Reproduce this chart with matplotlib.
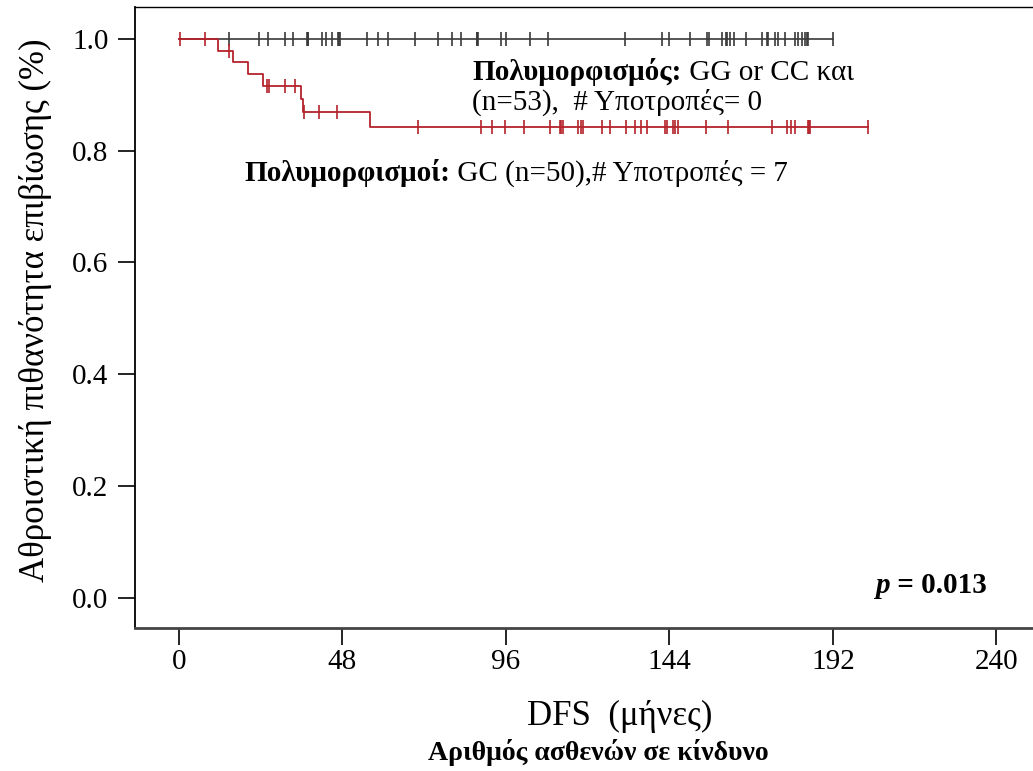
import numpy as np
import matplotlib
matplotlib.use("Agg")
import matplotlib.pyplot as plt

plt.rcParams['font.family'] = ['Liberation Serif', 'DejaVu Serif']

# --- Data (months) ---
# Group GC (n=50): event times (relapses) and censored times
gc_event_times = [11.5, 15.9, 20.3, 24.7, 35.7, 36.5, 56.1]
gc_censor_times = [0.3, 7.6, 14.7, 25.9, 26.5, 31.2, 34.1, 36.7, 41.2, 46.5,
                   70.3, 88.6, 91.9, 95.6, 101.4, 108.9, 111.9, 112.2, 112.7,
                   117.2, 117.9, 118.7, 124.1, 126.5, 131.4, 133.9, 135.8, 137.5,
                   142.7, 143.3, 145.1, 145.5, 146.6, 154.6, 161.3, 174.2, 178.6,
                   179.8, 180.9, 184.8, 185.0, 185.3, 202.4]
# Group GG or CC (n=53): no events, all censored
gg_censor_times = [14.8, 23.5, 26.2, 31.1, 33.6, 37.7, 38.0, 42.1, 43.3, 44.8,
                   46.8, 47.3, 55.1, 58.5, 61.5, 69.3, 76.1, 80.3, 82.9, 87.4,
                   87.9, 94.7, 96.0, 103.1, 108.4, 131.1, 141.7, 143.9, 150.0,
                   154.9, 155.7, 159.5, 160.5, 160.8, 161.8, 163.0, 166.6, 171.3,
                   172.6, 172.8, 175.0, 176.0, 177.9, 180.9, 181.8, 182.8, 183.8,
                   184.5, 184.8, 191.9, 37.9, 47.1, 87.6]

xticks = [0, 48, 96, 144, 192, 240]
yticks = [0.0, 0.2, 0.4, 0.6, 0.8, 1.0]


def km(event_times, censor_times):
    t = np.array(list(event_times) + list(censor_times), dtype=float)
    e = np.array([1] * len(event_times) + [0] * len(censor_times))
    order = np.lexsort((1 - e, t))
    t, e = t[order], e[order]
    n = len(t)
    s = 1.0
    xs, ys = [0.0], [1.0]
    cx, cy = [], []
    at_risk = n
    for ti, ei in zip(t, e):
        if ei == 1:
            xs.append(ti); ys.append(s)
            s *= (at_risk - 1) / at_risk
            xs.append(ti); ys.append(s)
        else:
            cx.append(ti); cy.append(s)
        at_risk -= 1
    xs.append(t.max()); ys.append(s)
    return np.array(xs), np.array(ys), np.array(cx), np.array(cy)


W, H = 1033, 771
fig = plt.figure(figsize=(W / 100, H / 100), dpi=100)
left, right, top, bottom = 135, 1040, 7, 628
ax = fig.add_axes([left / W, (H - bottom) / H, (right - left) / W, (bottom - top) / H])

red = '#b5232c'
dark = '#3a3a3a'

x, y, cx, cy = km([], gg_censor_times)
ax.plot(x, y, color=dark, lw=1.2, zorder=2)
ax.plot(cx, cy, ls='none', marker='|', ms=10, mew=1.2, color=dark, zorder=2)

x, y, cx, cy = km(gc_event_times, gc_censor_times)
ax.plot(x, y, color=red, lw=1.3, zorder=3)
ax.plot(cx, cy, ls='none', marker='|', ms=10, mew=1.2, color=red, zorder=3)

ax.set_xlim(-12.9, 252.8)
ax.set_ylim(-0.054, 1.057)
ax.set_xticks(xticks)
ax.set_xticklabels([str(v) for v in xticks])
ax.set_yticks(yticks)
ax.set_yticklabels([f"{v:.1f}" for v in yticks])
ax.tick_params(axis='both', direction='out', length=12, width=1.2, labelsize=21,
               colors='black')
ax.tick_params(axis='x', pad=3)
ax.tick_params(axis='y', pad=7)
ax.spines['right'].set_visible(False)
ax.spines['left'].set_linewidth(1.3)
ax.spines['top'].set_linewidth(1.0)
ax.spines['bottom'].set_linewidth(2.0)
ax.spines['bottom'].set_color('#444444')

ax.set_ylabel("Αθροιστική πιθανότητα επιβίωσης (%)", fontsize=25)
ax.yaxis.set_label_coords(-0.092, 0.512)

fs = 21
t1 = ax.text(86.1, 0.927, "Πολυμορφισμός:", fontsize=fs, fontweight='bold',
             va='baseline', ha='left')
ax.annotate(" GG or CC και", xy=(1, 0), xycoords=t1, fontsize=fs,
            va='bottom', ha='left')
ax.text(86.1, 0.873, "(n=53),  # Υποτροπές= 0", fontsize=fs,
        va='baseline', ha='left')
t2 = ax.text(19.2, 0.746, "Πολυμορφισμοί:", fontsize=fs, fontweight='bold',
             va='baseline', ha='left')
ax.annotate(" GC (n=50),# Υποτροπές = 7", xy=(1, 0), xycoords=t2, fontsize=fs,
            va='bottom', ha='left')

t3 = ax.text(204.5, 0.009, "p", fontsize=fs, fontweight='bold',
             fontstyle='italic', va='baseline', ha='left')
ax.annotate(" = 0.013", xy=(1, 0), xycoords=t3, fontsize=fs, fontweight='bold',
            va='bottom', ha='left')

fig.text(620 / W, 1 - 716 / H, "DFS  (μήνες)", fontsize=25, ha='center', va='center')
fig.text(598 / W, 1 - 752 / H, "Αριθμός ασθενών σε κίνδυνο", fontsize=20,
         fontweight='bold', ha='center', va='center')

fig.savefig("out.png", dpi=100)
